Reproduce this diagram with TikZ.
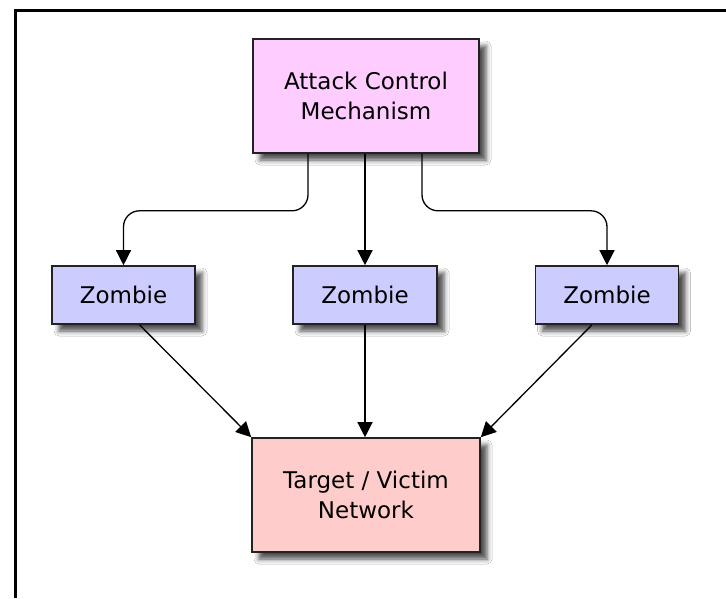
\documentclass[tikz,border=0pt]{standalone}
\usepackage{fontspec}
\setmainfont{DejaVu Sans}
\usetikzlibrary{arrows.meta,shadows.blur,backgrounds}
\definecolor{ctrlpink}{HTML}{FFCCFF}
\definecolor{zombieblue}{HTML}{CCCCFF}
\definecolor{targetred}{HTML}{FFCCCC}
\definecolor{edgegray}{HTML}{222222}
\definecolor{pathshade}{HTML}{E6E6E6}

\begin{document}
\begin{tikzpicture}[x=1pt,y=-1pt,
  box/.style={draw=edgegray, line width=1.6pt, rectangle, align=center, inner sep=0pt,
    font=\fontsize{23}{30}\selectfont,
    blur shadow={shadow xshift=7pt, shadow yshift=-7pt, shadow blur radius=5pt, shadow opacity=70}},
  conn/.style={draw=black, line width=1.3pt, -{Triangle[width=15pt,length=15pt]}, rounded corners=16pt},
  connshade/.style={draw=pathshade, line width=9pt, rounded corners=16pt, shorten >=6pt}
]
% page and frame
\useasboundingbox (0,0) rectangle (726,598);
\fill[white] (0,0) rectangle (726,598);
\draw[line width=3pt] (15,598) -- (15,10) -- (726,10);

% boxes
\node[box, fill=ctrlpink, minimum width=226pt, minimum height=114pt] (acm) at (366,96)
  {Attack Control\\Mechanism};
\node[box, fill=zombieblue, minimum width=143pt, minimum height=58pt] (z1) at (123.5,295) {Zombie};
\node[box, fill=zombieblue, minimum width=144pt, minimum height=58pt] (z2) at (365,295) {Zombie};
\node[box, fill=zombieblue, minimum width=143pt, minimum height=58pt] (z3) at (607,295) {Zombie};
\node[box, fill=targetred, minimum width=228pt, minimum height=114pt] (tgt) at (366,495)
  {Target / Victim\\Network};

% soft shading under the connectors
\begin{scope}[on background layer, transform canvas={xshift=8pt, yshift=-8pt}]
  \draw[connshade] ([xshift=-58pt]acm.south) -- ++(0,57) -| (z1.north);
  \draw[connshade] (acm.south -| z2.north) -- (z2.north);
  \draw[connshade] ([xshift=56pt]acm.south) -- ++(0,57) -| (z3.north);
  \draw[connshade] ([xshift=16pt]z1.south) -- (tgt.north west);
  \draw[connshade] (z2.south) -- (z2.south |- tgt.north);
  \draw[connshade] ([xshift=-15pt]z3.south) -- (tgt.north east);
\end{scope}

% connectors
\draw[conn] ([xshift=-58pt]acm.south) -- ++(0,57) -| (z1.north);
\draw[conn] (acm.south -| z2.north) -- (z2.north);
\draw[conn] ([xshift=56pt]acm.south) -- ++(0,57) -| (z3.north);
\draw[conn] ([xshift=16pt]z1.south) -- (tgt.north west);
\draw[conn] (z2.south) -- (z2.south |- tgt.north);
\draw[conn] ([xshift=-15pt]z3.south) -- (tgt.north east);
\end{tikzpicture}
\end{document}
